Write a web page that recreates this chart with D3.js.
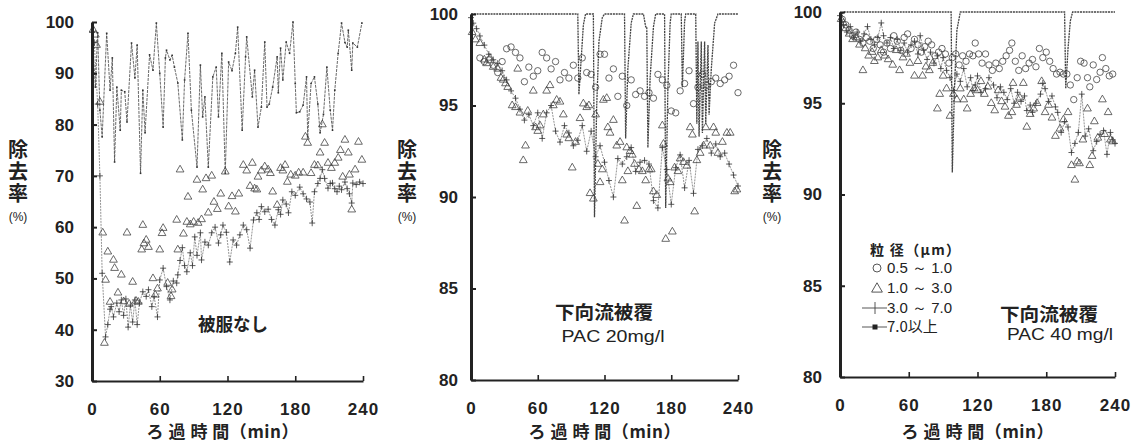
<!DOCTYPE html>
<html>
<head>
<meta charset="utf-8">
<script src="https://cdn.jsdelivr.net/npm/d3@7"></script>
<style>
  body { margin: 0; background: #fff; }
  svg { display: block; }
</style>
</head>
<body>
<svg id="chart"></svg>
<script>
// ---- data ----
const xTicks = [0, 60, 120, 180, 240];
const p1YTicks = [30, 40, 50, 60, 70, 80, 90, 100];
const p23YTicks = [80, 85, 90, 95, 100];

const legendLabels = ["0.5 ～ 1.0", "1.0 ～ 3.0", "3.0 ～ 7.0", "7.0以上"];
const panelNotes = [["被服なし"], ["下向流被覆", "PAC 20mg/l"], ["下向流被覆", "PAC 40 mg/l"]];

// panel 1 : 被服なし  [time (min), removal (%)]
const p1Over7 = [[0,98],[3,87.3],[5,97.9],[7,82.8],[9,77.6],[13,97.8],[16,86.7],[18,93],[20,72.7],[22,87.3],[25,78.9],[26,86.7],[29,86.4],[31,80.5],[35,95.9],[38,89.1],[40,95.5],[43,70.5],[45,86.7],[47,78.4],[51,93.6],[54,90.6],[57,99.8],[60,90],[63,79.5],[65,93.0],[66,94.5],[69,92.6],[71,93.5],[73,91.2],[76,88.1],[80,77.0],[82,88.7],[85,97.8],[88,82.8],[93,71.7],[96,91.6],[98,81.5],[100,85.4],[103,71.7],[107,89.3],[110,91.2],[112,81.5],[115,93.9],[118,70.5],[121,92.2],[124,90.5],[127,93.9],[129,99.0],[133,78.9],[136,93.2],[137,97.1],[142,85.4],[144,90.6],[147,79.5],[150,83.4],[153,96.1],[155,83.4],[157,84],[160,87.3],[164,93.2],[165,86.2],[167,94.9],[169,88.7],[172,96.1],[175,93.9],[178,100],[180,88],[181,82.3],[184,82.5],[187,83.8],[190,89.3],[191,77.6],[194,88],[197,89.3],[200,84],[202,78.4],[205,82],[208,91.2],[211,82.8],[213,78.9],[215,86.7],[218,93.9],[221,99.8],[224,96],[226,95.1],[227,98.4],[230,90.6],[231,95.9],[235,95.1],[239,99.8]];
const p1Tri = [[1,98.5],[3,97.5],[4,95.5],[7,84.4],[9.5,58.9],[11,37.4],[12,49.7],[14,55.2],[16,45.4],[19,53.6],[20,52.0],[23,47.2],[26,50.7],[28,45.5],[31,58.9],[33,45.0],[36,49.3],[39,45.6],[41,45.4],[44,55.6],[45,60.4],[46,56.8],[48,57.5],[50,56.1],[54,50.0],[56,46.8],[58,48],[60,55.6],[62,58.8],[63,59.8],[67,49.1],[70,46.5],[71,47.8],[75,61.4],[76,55.6],[78,71.2],[81,58.7],[84,61.0],[85,65.9],[87,60.5],[90,61.0],[93,69.2],[94,60.8],[97,61.5],[98,67.3],[101,69.5],[103,62.8],[106,70.0],[108,64.9],[111,63.5],[114,66.5],[118,70.8],[121,64],[124,66],[127,63],[130,66.5],[134,72.1],[137,71],[140,68],[142,72.5],[144,67.5],[146,67.3],[147,69.8],[150,71],[153,71.8],[156,71.2],[158,70.5],[160,66.9],[164,64.3],[167,71.5],[169,71],[171,72.1],[173,68.8],[176,70.2],[180,70.0],[183,70.6],[187,70.6],[189,77.6],[191,76.4],[194,70.5],[197,72.1],[200,72.0],[202,74.5],[204,80],[206,76.4],[209,72.5],[212,71.5],[215,72.5],[218,73.5],[220,75],[222,69.8],[224,77],[227,74.5],[228,70.2],[230,63.4],[233,71.2],[236,76.6],[239,73.1]];
const p1Plus = [[0,98],[2,96],[5,84],[7,70],[9,51],[12,38.6],[14,41],[16,44.0],[17,44.5],[19,42.5],[22,45.2],[24,43.5],[26,45.8],[28,42.8],[30,46],[32,40.5],[34,44.8],[36,41.5],[38,45.8],[40,41],[42,45.2],[45,47.4],[48,46.5],[50,47.8],[53,44.5],[55,46.5],[58,42.5],[60,49.7],[63,52],[66,48.4],[69,45.8],[72,49.5],[75,49.1],[76,50.7],[78,53.5],[80,56],[82,52.5],[84,51.3],[87,55],[89,52.5],[91,58.1],[93,54.5],[96,58.9],[97,53.6],[100,57.1],[103,56.5],[106,58.9],[109,60.0],[112,56.9],[114,58.5],[116,60.4],[119,59],[122,53.2],[125,57.5],[128,56.5],[131,58.5],[134,60.4],[137,59.5],[140,55.9],[143,61.4],[146,62.8],[148,61.5],[150,64.0],[153,63],[156,63.5],[159,61.5],[162,60.4],[165,63.4],[167,62.5],[169,65.3],[172,64.5],[174,62.8],[177,66.9],[180,66.2],[184,67.8],[187,66.5],[190,65.5],[193,64.9],[195,60.8],[197,66.9],[200,68.5],[202,69.5],[204,71.2],[206,69.5],[209,67.6],[211,68.5],[213,68.6],[215,67.5],[217,66.9],[219,68],[221,67.3],[224,68.8],[226,67.5],[228,66.5],[230,64.7],[231,68.6],[234,68.3],[237,68.8],[240,68.5]];

// panel 2 : 下向流被覆 PAC 20mg/l
const p2Over7 = [[0,100],[96,100],[97,95.6],[99,97.5],[101,99.4],[103,100],[110,100],[111,88.9],[113,95],[115,98.5],[118,99.8],[120,100],[138,100],[139,93.2],[141,97],[144,99.5],[146,100],[155,100],[157,99.3],[158,99.3],[159,92.7],[161,96.5],[164,99.3],[166,100],[174,100],[175,89.4],[177,96],[179,99.5],[180,100],[189,100],[190,96],[192,99.6],[193,100],[202,100],[203,94],[204,98.5],[205,93.3],[207,98.5],[208,93.5],[210,98.5],[211,94],[213,98.3],[214,94.5],[216,97],[219,99.5],[222,100],[240,100]];
const p2Circ = [[8,97.6],[12,97.4],[16,97.5],[20,97.2],[24,96.8],[28,97.4],[32,98.1],[36,98.2],[40,97.9],[44,97.6],[48,96.3],[52,97.1],[56,96.6],[60,96.9],[64,97.9],[68,97.6],[72,97.0],[76,97.4],[80,96.4],[84,96.8],[88,96.5],[92,97.2],[96,96.5],[100,97.6],[104,96.8],[108,96.7],[112,96.0],[116,97.8],[120,97.8],[124,96.5],[128,97.0],[132,95.5],[136,96.6],[140,95.0],[144,96.4],[148,95.6],[152,95.8],[156,95.5],[160,95.7],[164,95.4],[168,96.7],[172,96.4],[176,96.1],[180,94.7],[184,94.6],[188,95.8],[192,96.2],[196,96.9],[200,95.1],[204,96.0],[208,96.7],[212,96.1],[216,96.3],[220,96.5],[224,96.2],[228,96.4],[232,96.6],[236,97.2],[240,95.7]];
const p2Tri = [[1,99.0],[4,98.6],[8,98.4],[12,97.5],[14,97.3],[17,97.6],[20,97.1],[24,97.0],[27,96.5],[29,96.4],[31,96.2],[33,96.0],[37,95.0],[40,94.9],[42,97.0],[44,94.6],[47,92.0],[49,92.8],[51,94.7],[56,95.8],[58,93.8],[60,93.6],[62,93.9],[65,94.5],[68,95.8],[71,96.1],[74,95.0],[77,95.3],[80,95.2],[83,94.5],[86,93.4],[88,93.2],[91,91.6],[94,93.0],[98,94.3],[101,95.1],[104,94.9],[106,95.0],[107,90.2],[110,89.9],[112,94.5],[114,91.8],[116,90.8],[118,91.5],[119,95.3],[122,95.4],[123,93.8],[125,93.5],[128,94.2],[131,92.8],[134,93.0],[136,90.9],[138,88.7],[140,92.7],[141,91.4],[143,92.5],[145,92.3],[147,91.8],[149,89.5],[151,91.5],[154,91.4],[157,90.9],[160,91.5],[162,91.5],[164,90.3],[167,90.1],[172,93.9],[173,92.9],[175,87.7],[177,91.0],[179,90.8],[181,88.1],[183,91.6],[186,91.4],[188,92.1],[191,91.9],[194,91.7],[197,93.8],[199,93.4],[201,89.2],[203,92.0],[206,92.4],[209,92.8],[211,93.8],[215,92.8],[218,93.8],[220,93.5],[222,92.4],[226,93.0],[230,93.5],[233,93.5],[237,90.3],[239,90.4]];
const p2Plus = [[0,99.8],[2,99.5],[5,99.2],[8,98.8],[12,98.3],[16,97.8],[20,97.5],[24,97.3],[28,96.9],[32,96.4],[36,95.8],[40,95.4],[44,94.8],[48,94.2],[52,94.5],[56,93.9],[60,94.6],[64,93.2],[68,94.6],[72,95.0],[76,93.6],[80,93.0],[84,93.9],[88,93.5],[92,92.8],[96,93.1],[100,93.9],[104,92.5],[108,93.6],[112,92.2],[116,92.8],[120,91.9],[124,90.9],[128,90.0],[132,92.1],[136,91.8],[140,92.2],[144,92.7],[148,91.4],[152,91.9],[156,92.0],[160,91.8],[164,89.8],[168,89.4],[172,92.7],[176,91.5],[180,89.6],[184,91.6],[188,92.3],[192,90.5],[196,92.0],[200,90.2],[204,92.6],[208,92.8],[212,93.2],[216,92.4],[220,92.9],[224,92.2],[228,92.4],[232,91.8],[236,91.2],[240,90.6]];

// panel 3 : 下向流被覆 PAC 40 mg/l
const p3Over7 = [[0,99.6],[3,100],[97,100],[98,91.2],[100,96],[102,99],[105,100],[196,100],[197,95.8],[199,98],[201,99.5],[203,100],[240,100]];
const p3Circ = [[2,99.6],[5,99.3],[8,99.0],[11,98.7],[14,98.9],[17,98.5],[20,98.3],[23,98.6],[26,98.4],[29,98.0],[32,98.5],[35,98.2],[38,97.8],[41,98.3],[44,98.0],[47,98.7],[50,98.4],[53,97.9],[56,98.6],[59,98.8],[62,98.0],[65,98.5],[68,98.2],[71,97.8],[74,98.1],[77,98.4],[80,98.2],[83,97.6],[86,97.8],[89,98.0],[92,97.7],[95,97.2],[98,97.5],[101,97.7],[104,97.1],[107,97.6],[110,97.3],[113,97.7],[116,97.6],[118,98.3],[121,97.7],[124,97.2],[127,97.7],[130,97.1],[133,96.8],[136,97.2],[139,96.9],[142,97.3],[145,97.6],[148,97.9],[150,98.3],[153,97.3],[156,96.8],[159,97.6],[162,96.9],[165,97.2],[168,97.4],[171,97.0],[174,98.0],[177,97.5],[180,97.8],[183,97.3],[186,96.9],[189,96.6],[192,96.7],[195,96.6],[198,96.6],[201,96.0],[204,95.2],[207,96.4],[210,97.3],[213,97.2],[216,96.4],[218,95.9],[221,97.1],[224,96.3],[227,96.7],[229,97.5],[232,96.9],[235,96.5],[238,96.6]];
const p3Tri = [[1,99.6],[3,99.4],[5,99.1],[8,98.8],[11,98.5],[14,98.6],[17,98.2],[20,96.8],[22,98.0],[25,97.6],[28,97.8],[30,97.3],[33,97.5],[36,97.9],[39,97.6],[42,97.4],[46,97.1],[49,97.9],[52,96.8],[55,97.5],[58,97.7],[61,97.2],[65,96.5],[68,97.3],[72,96.5],[75,97.0],[78,96.8],[81,97.2],[85,94.7],[87,95.5],[90,96.5],[93,95.8],[96,94.3],[99,95.5],[102,95.2],[105,95.8],[108,95.2],[111,94.7],[114,95.5],[117,95.8],[120,95.7],[123,96.2],[126,95.5],[129,95.9],[132,95.0],[135,94.6],[138,95.7],[141,95.1],[144,94.8],[147,94.3],[150,94.5],[151,96.1],[154,94.9],[157,95.3],[160,96.1],[163,93.7],[166,94.4],[169,94.7],[172,95.0],[176,96.2],[179,94.5],[182,94.9],[185,94.2],[188,93.2],[192,93.6],[195,94.1],[199,94.5],[202,91.6],[205,90.8],[207,91.8],[209,91.7],[212,93.0],[216,94.7],[218,91.6],[220,92.1],[222,94.0],[225,93.1],[229,95.2],[231,93.3],[234,94.5],[236,93.0],[238,92.9]];
const p3Plus = [[0,99.8],[3,99.3],[6,98.9],[9,99.2],[12,98.6],[15,98.9],[18,98.4],[21,98.8],[24,99.2],[27,98.5],[30,98.2],[33,98.6],[36,99.4],[38,98.7],[41,98.3],[44,98.6],[47,98.0],[50,98.5],[53,97.9],[56,98.3],[59,97.8],[62,98.2],[65,98.4],[68,97.7],[70,98.7],[73,97.9],[76,97.4],[79,97.8],[82,97.2],[85,97.6],[88,96.9],[90,97.5],[93,96.8],[96,96.4],[99,95.7],[102,96.6],[105,96.2],[108,96.9],[111,95.9],[114,96.4],[116,95.7],[118,96.0],[120,96.5],[123,95.6],[127,95.8],[130,96.4],[134,96.0],[137,95.3],[140,95.9],[143,95.6],[146,95.2],[149,95.8],[152,95.0],[155,95.6],[158,95.1],[161,95.4],[163,94.6],[166,94.9],[168,94.5],[171,95.0],[175,95.5],[177,96.1],[179,95.8],[182,95.1],[185,95.4],[188,94.8],[190,94.5],[193,93.4],[196,94.0],[199,93.7],[202,92.3],[205,92.8],[208,93.4],[211,95.5],[214,93.2],[217,93.6],[221,92.4],[224,92.9],[227,93.3],[230,93.5],[233,92.2],[236,93.4],[238,93.0],[240,92.8]];

// ---- layout ----
const width = 1133;
const height = 443;
const ink = "#222";
const latin = "'Liberation Sans', Arial, sans-serif";
const cjk = "'Noto Sans CJK JP', 'Noto Sans', sans-serif";

const svg = d3.select("#chart").attr("width", width).attr("height", height);

const panels = [
  { xr: [92, 363], yr: [381, 22], yDomain: [30, 100], yTicks: p1YTicks, pad: 18, titleX: 18,
    over7: p1Over7, circ: [], tri: p1Tri, plus: p1Plus,
    notes: [{ x: 233, y: 325, w: 70, size: 18 }] },
  { xr: [471, 738], yr: [380, 14], yDomain: [80, 100], yTicks: p23YTicks, pad: 13, titleX: 407,
    over7: p2Over7, circ: p2Circ, tri: p2Tri, plus: p2Plus,
    notes: [{ x: 604, y: 313, w: 98, size: 18 }, { x: 613, y: 336, w: 103, size: 16 }] },
  { xr: [840, 1115], yr: [377, 12], yDomain: [80, 100], yTicks: p23YTicks, pad: 18, titleX: 772,
    over7: p3Over7, circ: p3Circ, tri: p3Tri, plus: p3Plus,
    notes: [{ x: 1049, y: 315, w: 98, size: 18 }, { x: 1060, y: 334, w: 106, size: 16 }] }
];

const triPath = d3.symbol(d3.symbolTriangle, 26)();
const plusPath = "M-3,0H3M0,-3.2V3.2";

panels.forEach(function (p, pi) {
  const x = d3.scaleLinear().domain([0, 240]).range(p.xr);
  const y = d3.scaleLinear().domain(p.yDomain).range(p.yr);
  const g = svg.append("g");

  // 3.0 ~ 7.0 : thin line + plus marks
  const line = d3.line().x((d) => x(d[0])).y((d) => y(d[1]));
  g.append("path")
    .attr("d", line(p.plus))
    .attr("fill", "none")
    .attr("stroke", "#666")
    .attr("stroke-width", 0.7)
    .attr("stroke-dasharray", "2,1");
  g.selectAll(".plus")
    .data(p.plus)
    .enter()
    .append("path")
    .attr("d", plusPath)
    .attr("transform", (d) => `translate(${x(d[0])},${y(d[1])})`)
    .attr("stroke", "#333")
    .attr("stroke-width", 0.8);

  // 7.0 and over : line with small squares
  g.append("path")
    .attr("d", line(p.over7))
    .attr("fill", "none")
    .attr("stroke", "#444")
    .attr("stroke-width", pi === 0 ? 0.8 : 1.3)
    .attr("stroke-dasharray", pi === 0 ? "3,1" : "2,0.8");
  if (pi === 0) {
    g.selectAll(".sq")
      .data(p.over7)
      .enter()
      .append("rect")
      .attr("x", (d) => x(d[0]) - 0.8)
      .attr("y", (d) => y(d[1]) - 0.8)
      .attr("width", 1.6)
      .attr("height", 1.6)
      .attr("fill", "#333");
  }

  // 1.0 ~ 3.0 : triangles
  g.selectAll(".tri")
    .data(p.tri)
    .enter()
    .append("path")
    .attr("d", triPath)
    .attr("transform", (d) => `translate(${x(d[0])},${y(d[1])})`)
    .attr("fill", "none")
    .attr("stroke", "#444")
    .attr("stroke-width", 0.8);

  // 0.5 ~ 1.0 : circles
  g.selectAll(".circ")
    .data(p.circ)
    .enter()
    .append("circle")
    .attr("cx", (d) => x(d[0]))
    .attr("cy", (d) => y(d[1]))
    .attr("r", 3.2)
    .attr("fill", "none")
    .attr("stroke", "#444")
    .attr("stroke-width", 0.8);

  // axes
  const yAxis = g.append("g")
    .attr("transform", `translate(${p.xr[0]},0)`)
    .call(d3.axisLeft(y).tickValues(p.yTicks).tickSize(-5).tickSizeOuter(0).tickPadding(p.pad));
  yAxis.select(".domain").attr("stroke", ink).attr("stroke-width", 3);
  yAxis.selectAll(".tick line").attr("stroke", ink).attr("stroke-width", 2);
  yAxis.selectAll("text")
    .attr("fill", ink)
    .style("font-family", latin)
    .style("font-weight", "bold")
    .style("font-size", "17px");

  const xAxis = g.append("g")
    .attr("transform", `translate(0,${p.yr[0]})`)
    .call(d3.axisBottom(x).tickValues(xTicks).tickSize(-5).tickSizeOuter(0).tickPadding(22));
  xAxis.select(".domain").attr("stroke", ink).attr("stroke-width", 2);
  xAxis.selectAll(".tick line").attr("stroke", ink).attr("stroke-width", 1.6);
  xAxis.selectAll("text")
    .attr("fill", ink)
    .style("font-family", latin)
    .style("font-weight", "bold")
    .style("font-size", "17px")
    .style("letter-spacing", "1px");

  // x title
  const cx = (p.xr[0] + p.xr[1]) / 2 + (pi === 0 ? -5 : 0);
  g.append("text")
    .attr("x", cx)
    .attr("y", 438)
    .attr("text-anchor", "middle")
    .attr("textLength", 152)
    .attr("lengthAdjust", "spacing")
    .attr("fill", ink)
    .style("font-family", cjk)
    .style("font-weight", "bold")
    .style("font-size", "17px")
    .text("ろ 過 時 間（min）");

  // y title, set vertically as one text
  g.append("text")
    .attr("x", p.titleX)
    .attr("y", 139)
    .attr("fill", ink)
    .style("writing-mode", "vertical-rl")
    .style("font-family", cjk)
    .style("font-weight", "bold")
    .style("font-size", "20px")
    .style("letter-spacing", "2px")
    .text("除去率");
  g.append("text")
    .attr("x", p.titleX)
    .attr("y", 221)
    .attr("text-anchor", "middle")
    .attr("fill", ink)
    .style("font-family", latin)
    .style("font-size", "12px")
    .text("(%)");

  // condition note
  panelNotes[pi].forEach(function (t, i) {
    const n = p.notes[i];
    g.append("text")
      .attr("x", n.x)
      .attr("y", n.y + n.size * 0.35)
      .attr("text-anchor", "middle")
      .attr("textLength", n.w)
      .attr("lengthAdjust", "spacingAndGlyphs")
      .attr("fill", ink)
      .style("font-family", i === 0 ? cjk : latin)
      .style("font-weight", i === 0 ? "bold" : "normal")
      .style("font-size", n.size + "px")
      .text(t);
  });
});

// legend (panel 3)
const legend = svg.append("g").attr("transform", "translate(875,0)");
legend.append("text")
  .attr("x", -5)
  .attr("y", 255)
  .attr("fill", ink)
  .style("font-family", cjk)
  .style("font-size", "14px")
  .style("font-weight", "bold")
  .attr("textLength", 90)
  .attr("lengthAdjust", "spacing")
  .text("粒 径（μm）");

const rowY = [268, 288, 308, 327];
legend.selectAll(".lab")
  .data(legendLabels)
  .enter()
  .append("text")
  .attr("x", 12)
  .attr("y", (d, i) => rowY[i] + 5)
  .attr("fill", ink)
  .style("font-family", (d, i) => (i === 3 ? cjk : latin))
  .style("font-size", "15px")
  .text((d) => d);

legend.append("circle").attr("cx", 2).attr("cy", rowY[0]).attr("r", 4)
  .attr("fill", "none").attr("stroke", "#444").attr("stroke-width", 0.9);
legend.append("path").attr("d", d3.symbol(d3.symbolTriangle, 50)())
  .attr("transform", `translate(2,${rowY[1] + 1})`)
  .attr("fill", "none").attr("stroke", "#444").attr("stroke-width", 0.9);
[2, 3].forEach(function (i) {
  legend.append("line").attr("x1", -13).attr("x2", 12)
    .attr("y1", rowY[i]).attr("y2", rowY[i])
    .attr("stroke", "#444").attr("stroke-width", 0.9);
});
legend.append("path").attr("d", "M0,-6V6").attr("transform", `translate(0,${rowY[2]})`)
  .attr("stroke", "#444").attr("stroke-width", 0.9);
legend.append("rect").attr("x", -2.5).attr("y", rowY[3] - 2.5).attr("width", 5).attr("height", 5)
  .attr("fill", "#222");
</script>
</body>
</html>
